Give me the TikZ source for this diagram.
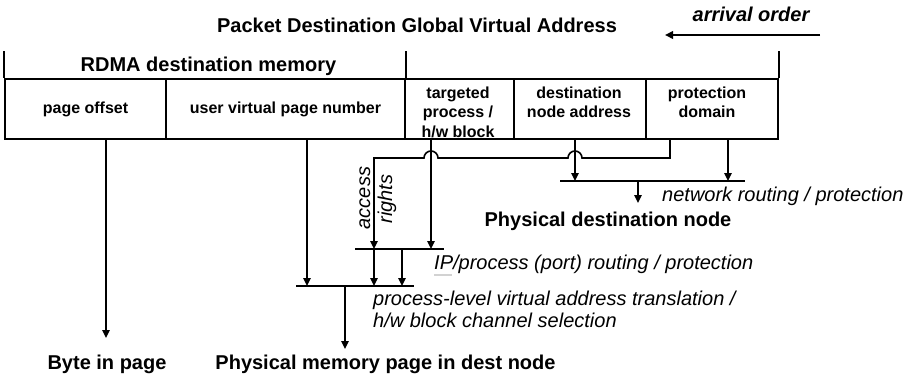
\documentclass[tikz,border=0pt]{standalone}
\usepackage{fontspec}
\setmainfont{Liberation Sans}
\usepackage{tikz}
\usepackage{xcolor}
\usetikzlibrary{positioning,arrows.meta}
\newcommand{\bigtext}{\fontsize{20}{22}\selectfont}
\newcommand{\celltext}{\fontsize{16}{19.5}\selectfont}
\newcommand{\ipmark}{\rlap{\textcolor{gray!35}{\rule[-7pt]{18pt}{2pt}}}}
\tikzstyle{field} = [draw, line width=2pt, minimum height=60pt, inner sep=0pt, font=\celltext\bfseries]
\tikzstyle{fieldtext} = [inner sep=0pt, anchor=north, align=center, font=\celltext\bfseries]
\tikzstyle{heading} = [inner sep=0pt, anchor=base, font=\bigtext\bfseries]
\tikzstyle{note} = [inner sep=0pt, anchor=base west, font=\bigtext\itshape]
\tikzstyle{bar} = [line width=2pt]
\tikzstyle{wire} = [line width=1.6pt]
\tikzstyle{flow} = [wire, -{Triangle[length=8pt,width=7.5pt]}]

\begin{document}
\begin{tikzpicture}[x=1pt,y=-1pt]
			\useasboundingbox (0,0) rectangle (915,377);
			\node[heading] (title) at (417,33) {Packet Destination Global Virtual Address};
			\node[heading, font=\bigtext\bfseries\itshape] (arrival) at (751,22) {arrival order};
			\coordinate (arr-s) at (820,35);
			\coordinate (arr-e) at (665,35);
			\draw[flow, line width=2pt] (arr-s) -- (arr-e);
			\node[heading] (rdma) at (208.5,72) {RDMA destination memory};
			\node[field, minimum width=161pt] (po) at (85.5,109) {page offset};
			\node[field, minimum width=239pt] (uvpn) at (285.5,109) {user virtual page number};
			\node[field, minimum width=109pt] (tgt) at (459.5,109) {};
			\node[field, minimum width=132pt] (dna) at (580,109) {};
			\node[field, minimum width=132pt] (pd) at (712,109) {};
			\node[fieldtext] (tgt-t) at (458,86.5) {targeted\\process /\\h/w block};
			\node[fieldtext] (dna-t) at (579,86.5) {destination\\node address};
			\node[fieldtext] (pd-t) at (707,86.5) {protection\\domain};
			\draw[bar] (po.north west) -- ++(0,-27);
			\draw[bar] (uvpn.north east) -- ++(0,-27);
			\draw[bar] (pd.north east) -- ++(0,-27);
			\coordinate (po-out) at (106,139);
			\coordinate (uvpn-out) at (307,139);
			\coordinate (tgt-out) at (431,139);
			\coordinate (dna-out) at (575,139);
			\coordinate (pd-out) at (670,139);
			\coordinate (pd-net) at (728,139);
			\coordinate (netbar-w) at (560,181);
			\coordinate (netbar-e) at (745,181);
			\coordinate (ipbar-w) at (355,249);
			\coordinate (ipbar-e) at (444,249);
			\coordinate (vabar-w) at (296,286);
			\coordinate (vabar-e) at (414,286);
			\coordinate (byte-in) at (106,338);
			\coordinate (phys-in) at (345,349);
			\draw[bar] (netbar-w) -- (netbar-e);
			\draw[bar] (ipbar-w) -- (ipbar-e);
			\draw[bar] (vabar-w) -- (vabar-e);
			\draw[flow] (po-out) -- (byte-in);
			\draw[flow] (uvpn-out) -- (uvpn-out |- vabar-w);
			\draw[flow] (tgt-out) -- (tgt-out |- ipbar-w);
			\draw[flow] (dna-out) -- (dna-out |- netbar-w);
			\draw[flow] (pd-net) -- (pd-net |- netbar-w);
			\draw[flow] (pd-out) |- (582,158) arc[start angle=0, end angle=180, radius=7pt]
				-- (438,158) arc[start angle=0, end angle=180, radius=7pt]
				-- (374,158) -- (374,249);
			\draw[flow] (374,249) -- (374,286);
			\draw[flow] (402,249) -- (402,286);
			\draw[flow] (phys-in |- vabar-w) -- (phys-in);
			\draw[flow] (638,181) -- (638,203);
			\node[note, anchor=base, rotate=90] (acc) at (370,198) {access};
			\node[note, anchor=base, rotate=90] (rgt) at (392,199) {rights};
			\node[note] (net) at (662,201) {network routing / protection};
			\node[heading] (dest) at (608,226) {Physical destination node};
			\node[note] (ipnote) at (434,269) {\ipmark IP/process (port) routing / protection};
			\node[note, anchor=north west, align=left] (vanote) at (373,290.7) {process-level virtual address translation /\\h/w block channel selection};
			\node[heading] (byte) at (107,369) {Byte in page};
			\node[heading] (phys) at (385.5,369) {Physical memory page in dest node};
		\end{tikzpicture}
\end{document}
